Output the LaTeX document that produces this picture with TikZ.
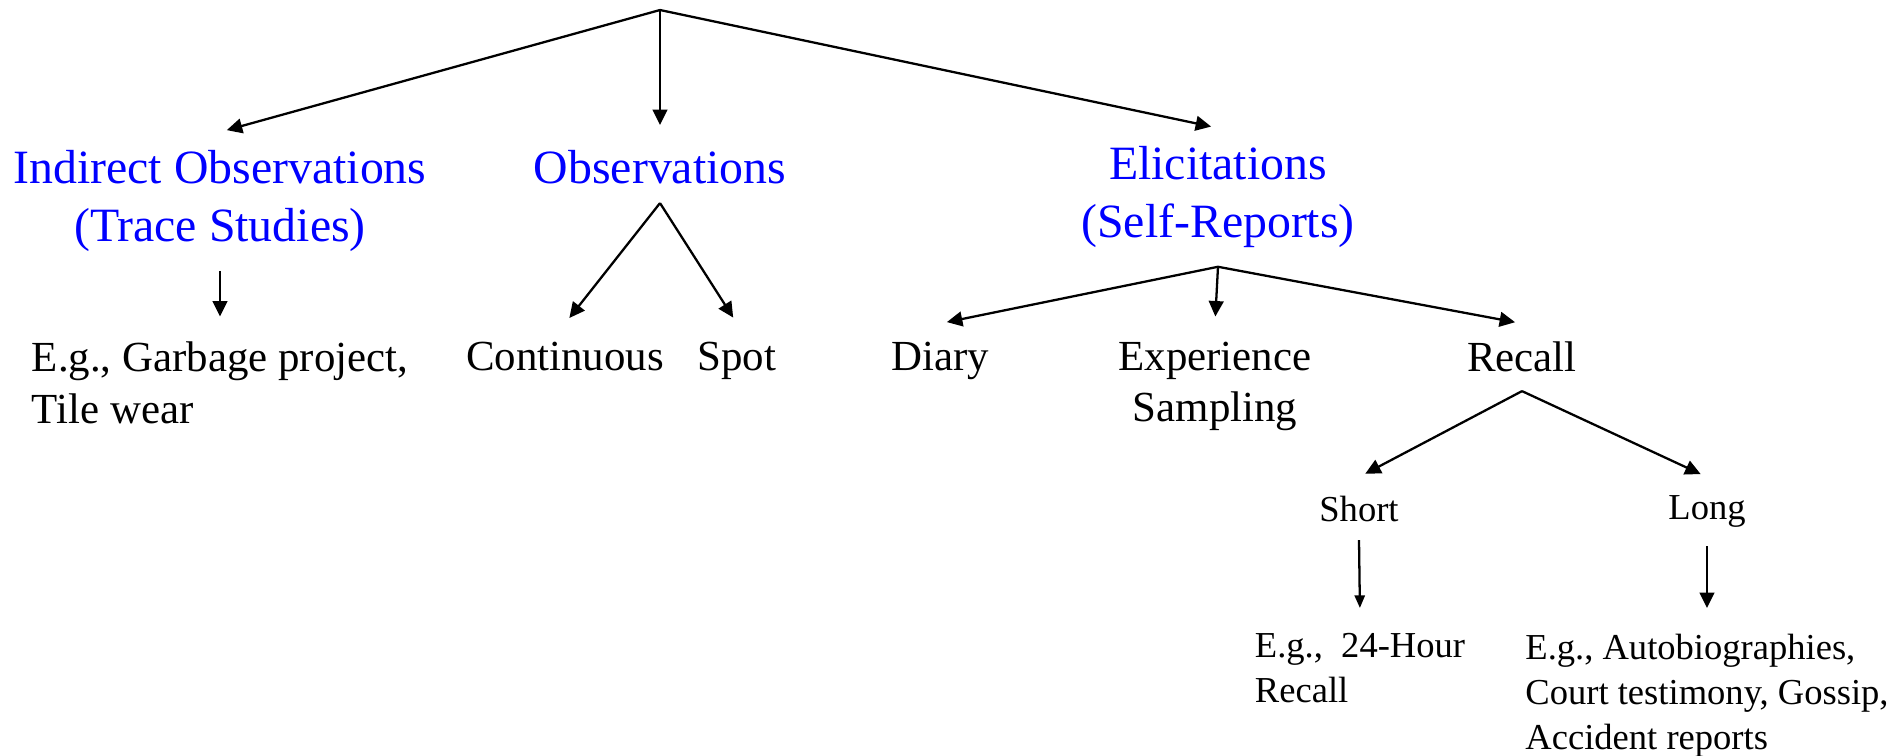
\documentclass[tikz,border=0pt]{standalone}
\usepackage{fontspec}
\setmainfont{Liberation Serif}
\usetikzlibrary{arrows.meta}
\definecolor{catblue}{RGB}{0,0,255}
\begin{document}
\begin{tikzpicture}[line width=0.65pt,
	arr/.style = {-{Triangle[length=4.4pt, width=4.2pt]}, shorten >=2pt},
	arrsm/.style = {-{Triangle[length=3.6pt, width=2.9pt]}, shorten >=2pt},
	cat/.style = {anchor=north, inner xsep=0pt, inner ysep=5pt, align=center, text=catblue, font=\fontsize{13.6}{16.5}\selectfont},
	leaf/.style = {anchor=north, inner xsep=0pt, inner ysep=5pt, align=center, font=\fontsize{12.2}{14.6}\selectfont},
	kind/.style = {anchor=north, inner xsep=0pt, inner ysep=5pt, align=left, font=\fontsize{10.4}{12.8}\selectfont}]

	\useasboundingbox (0,0) rectangle (18.96,-7.55);

	\coordinate (root) at (6.60,-0.10);

	\node[cat] (ind) at (2.20,-1.32) {Indirect Observations\\(Trace Studies)};
	\node[cat] (obs) at (6.60,-1.32) {Observations};
	\node[cat] (eli) at (12.18,-1.28) {Elicitations\\(Self-Reports)};

	\node[leaf, align=left] (garb) at (2.20,-3.235) {E.g., Garbage project,\\Tile wear};
	\node[leaf] (cont) at (5.65,-3.235) {Continuous};
	\node[leaf] (spot) at (7.37,-3.235) {Spot};
	\node[leaf] (diary) at (9.40,-3.235) {Diary};
	\node[leaf] (exp) at (12.15,-3.235) {Experience\\Sampling};
	\node[leaf] (recall) at (15.22,-3.235) {Recall};

	\node[kind] (short) at (13.59,-4.77) {Short};
	\node[kind] (long) at (17.07,-4.77) {Long};

	\node[kind] (hour) at (13.60,-6.15) {E.g.,\ \ 24-Hour\\Recall};
	\node[kind] (auto) at (17.07,-6.15) {E.g., Autobiographies,\\Court testimony, Gossip,\\Accident reports};

	\draw[arr] (root) -- (ind.north);
	\draw[arr] (root) -- (obs.north);
	\draw[arr] (root) -- (eli.north);

	\draw[arr] (ind.south) -- (garb.north);
	\draw[arr] (obs.south) -- (cont.north);
	\draw[arr] (obs.south) -- (spot.north);
	\draw[arr] (eli.south) -- (diary.north);
	\draw[arr] (eli.south) -- (exp.north);
	\draw[arr] (eli.south) -- (recall.north);

	\draw[arr] (recall.south) -- (short.north);
	\draw[arr] (recall.south) -- (long.north);

	\draw[arrsm] (short.south) -- (hour.north);
	\draw[arr] (long.south) -- (auto.north);
\end{tikzpicture}
\end{document}
